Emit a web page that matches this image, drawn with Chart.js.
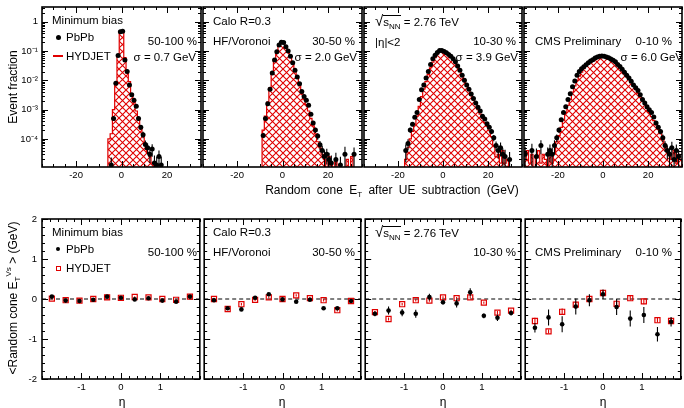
<!DOCTYPE html>
<html>
<head>
<meta charset="utf-8">
<script src="https://cdn.jsdelivr.net/npm/chart.js@4.4.1/dist/chart.umd.min.js"></script>
<style>
  body { margin: 0; background: #fff; }
  #fig { position: relative; width: 684px; height: 408px; overflow: hidden;
         font-family: "Liberation Sans", Arial, sans-serif; color: #000; }
  #fig canvas { position: absolute; }
  .t { position: absolute; font-size: 11.5px; line-height: 14px; white-space: nowrap; }
  .t sub { font-size: 8px; vertical-align: -3px; line-height: 0; }
  .t sup { font-size: 8px; vertical-align: 5px; line-height: 0; }
  .rt { font-size: 15px; }
  .ov { border-top: 1px solid #000; }
  .rot { position: absolute; white-space: nowrap; font-size: 12px; transform: translate(-50%, -50%) rotate(-90deg); }
  .rot sub { font-size: 8px; vertical-align: -3px; line-height: 0; }
  .rot sup { font-size: 8px; vertical-align: 6px; line-height: 0; }
  .xt { position: absolute; white-space: nowrap; font-size: 12px; word-spacing: 3px; transform: translateX(-50%); }
  .xt sub { font-size: 8px; vertical-align: -3px; line-height: 0; }
  .mk { position: absolute; }
</style>
</head>
<body>
<div id="fig"></div>
<script>
const FONT = '"Liberation Sans", Arial, sans-serif';
const RED = '#e00000';
Chart.defaults.font.family = FONT;
Chart.defaults.color = '#000';

// ---------- top row: random cone E_T after UE subtraction, 1 GeV bins ----------
const etRange = [-35, 35];
const etLabels = [-20, 0, 20];
const fracRange = [1.1e-5, 3.2];
const fracLabels = [1e-4, 1e-3, 1e-2, 1e-1, 1];

const centLabels = ['50-100 %', '30-50 %', '10-30 %', '0-10 %'];
const sigmaLabels = ['σ = 0.7 GeV', 'σ = 2.0 GeV', 'σ = 3.9 GeV', 'σ = 6.0 GeV'];

// PbPb: centre of first bin, bin contents, relative errors
const pbpbStart = [-4.5, -8.5, -16.5, -34.5];
const pbpb50_100 = [1.3e-5, 5e-4, 8e-3, 0.07, 0.46, 0.48, 0.05, 0.02, 7e-3, 3.2e-3, 2.1e-3, 1.3e-3,
  5e-4, 2.5e-4, 1.4e-4, 6.5e-5, 5e-5, 3e-5, 4.5e-5, 1.5e-5, 1.3e-5, 2.5e-5, 1.3e-5];
const pbpb30_50 = [1.3e-4, 5e-4, 1.6e-3, 5e-3, 0.018, 0.05, 0.095, 0.16, 0.2, 0.195, 0.14, 0.1, 0.066,
  0.04, 0.022, 0.013, 7.6e-3, 4.2e-3, 2.8e-3, 2.1e-3, 1.4e-3, 7e-4, 3.5e-4, 2e-4, 1.25e-4, 6.3e-5,
  4e-5, 2.5e-5, 3e-5, 2e-5, 1.5e-5, null, 2e-5, null, 1.3e-5, null, 3e-5, null, null, null, 3e-5];
const pbpb10_30 = [4e-5, 7e-5, 2e-4, 3.2e-4, 5.5e-4, 8e-4, 2.2e-3, 4.8e-3, 7e-3, 0.012, 0.02, 0.035,
  0.055, 0.072, 0.09, 0.105, 0.104, 0.097, 0.088, 0.077, 0.066, 0.055, 0.043, 0.031, 0.022, 0.015,
  0.01, 7e-3, 5e-3, 3.4e-3, 2.4e-3, 1.7e-3, 1.2e-3, 9e-4, 6e-4, 4.8e-4, 3.3e-4, 2.5e-4, 1.8e-4,
  1.1e-4, 6e-5, 4e-5, 5e-5, 3e-5, 2.5e-5, null, 2e-5];
const pbpb0_10 = [3e-5, null, null, 4e-5, null, 2.5e-5, null, 6e-5, null, null, 3e-5, 4e-5, 3e-5, 6e-5,
  1.1e-4, 2e-4, 4.5e-4, 8e-4, 1.25e-3, 2.2e-3, 3.5e-3, 6e-3, 9.5e-3, 0.015, 0.02, 0.025, 0.029,
  0.034, 0.04, 0.046, 0.051, 0.058, 0.063, 0.066, 0.068, 0.066, 0.063, 0.059, 0.054, 0.049, 0.043,
  0.035, 0.03, 0.024, 0.019, 0.015, 0.012, 9.3e-3, 7e-3, 5.6e-3, 4.5e-3, 3.2e-3, 2.2e-3, 1.7e-3,
  1.25e-3, 1e-3, 8e-4, 5.6e-4, 3.5e-4, 2.5e-4, 1.8e-4, 1.1e-4, 6e-5, 4e-5, 3e-5, 5e-5, 2e-5, 4e-5,
  2.5e-5, null];

const errPbpb50_100 = [0.8, 0.15, 0.04, 0.01, 0.01, 0.01, 0.01, 0.02, 0.04, 0.06, 0.08, 0.1, 0.15,
  0.2, 0.25, 0.35, 0.4, 0.5, 0.45, 0.8, 0.9, 0.6, 0.9];
const errPbpb30_50 = [0.15, 0.08, 0.05, 0.03, 0.01, 0.01, 0.01, 0.01, 0.01, 0.01, 0.01, 0.01, 0.01,
  0.01, 0.02, 0.02, 0.03, 0.04, 0.05, 0.06, 0.08, 0.1, 0.15, 0.2, 0.25, 0.35, 0.45, 0.6, 0.55, 0.7,
  0.8, 0, 0.7, 0, 0.9, 0, 0.8, 0, 0, 0, 0.7];
const errPbpb10_30 = [0.6, 0.4, 0.2, 0.15, 0.1, 0.08, 0.04, 0.03, 0.02, 0.01, 0.01, 0.01, 0.01, 0.01,
  0.01, 0.01, 0.01, 0.01, 0.01, 0.01, 0.01, 0.01, 0.01, 0.01, 0.01, 0.01, 0.01, 0.01, 0.02, 0.02,
  0.03, 0.04, 0.05, 0.06, 0.08, 0.1, 0.12, 0.15, 0.2, 0.25, 0.35, 0.45, 0.5, 0.6, 0.7, 0, 0.8];
const errPbpb0_10 = [0.8, 0, 0, 0.7, 0, 0.9, 0, 0.5, 0, 0, 0.7, 0.6, 0.7, 0.5,
  0.3, 0.2, 0.12, 0.08, 0.06, 0.04,
  0.02, 0.02, 0.01, 0.01, 0.01, 0.01, 0.01, 0.01, 0.01, 0.01, 0.01, 0.01, 0.01, 0.01, 0.01, 0.01,
  0.01, 0.01, 0.01, 0.01, 0.01, 0.01, 0.01, 0.01, 0.01, 0.01, 0.01, 0.01, 0.01, 0.01, 0.02, 0.02, 0.02,
  0.03, 0.04, 0.05, 0.06, 0.08, 0.12, 0.15, 0.2, 0.3, 0.4,
  0.5, 0.7, 0.6, 0.8, 0.6, 0.7, 0];

// HYDJET: lower edge of first bin, bin contents
const hydStart = [-6, -9, -17, -35];
const hyd50_100 = [1e-4, 1.5e-4, 1e-3, 8e-3, 0.07, 0.45, 0.47, 0.06, 0.018, 9e-3, 3.5e-3, 1.8e-3,
  9e-4, 4.5e-4, 2.2e-4, 1.2e-4, 7e-5, 3.5e-5, 2.5e-5, 1.5e-5];
const hyd30_50 = [2e-4, 6e-4, 1.8e-3, 5.5e-3, 0.018, 0.05, 0.095, 0.16, 0.21, 0.2, 0.145, 0.1, 0.065,
  0.04, 0.022, 0.012, 6.5e-3, 3.5e-3, 2.2e-3, 1.5e-3, 9e-4, 5e-4, 2.8e-4, 1.5e-4, 8e-5, 5e-5, 3e-5,
  2e-5, 5e-6, 2.5e-5, 1.5e-5, 5e-6, 2e-5, 5e-6, 5e-6, 5e-6, 5e-6, 2e-5, 5e-6, 2.5e-5];
const hyd10_30 = [2e-5, 5e-5, 1e-4, 1.8e-4, 3.2e-4, 6e-4, 1.3e-3, 2.8e-3, 5e-3, 9e-3, 0.016, 0.027,
  0.042, 0.06, 0.08, 0.097, 0.105, 0.1, 0.09, 0.079, 0.067, 0.055, 0.043, 0.031, 0.022, 0.015, 0.01,
  6.8e-3, 4.6e-3, 3.1e-3, 2.1e-3, 1.5e-3, 1e-3, 7e-4, 5e-4, 3.6e-4, 2.7e-4, 1.9e-4, 1.2e-4, 6e-5,
  2.5e-5, 3e-5, 1.5e-5, 4e-5, 1.5e-5, 2e-5, 1e-5];
const hyd0_10 = [2e-5, 4e-5, 1.5e-5, 3e-5, 5e-6, 2.5e-5, 4e-5, 1.5e-5, 3e-5, 2e-5, 5e-6, 3e-5, 1.5e-5,
  3e-5, 8e-5, 1.3e-4, 2.5e-4, 4.5e-4, 8e-4, 1.4e-3, 2.3e-3, 4e-3, 6.5e-3, 0.01, 0.014, 0.019, 0.025,
  0.031, 0.038, 0.045, 0.051, 0.057, 0.062, 0.066, 0.068, 0.067, 0.064, 0.06, 0.055, 0.049, 0.043,
  0.036, 0.03, 0.024, 0.019, 0.0145, 0.011, 8.3e-3, 6.3e-3, 4.8e-3, 3.6e-3, 2.7e-3, 2e-3, 1.5e-3,
  1.1e-3, 8e-4, 5.8e-4, 4.2e-4, 3e-4, 2.1e-4, 1.5e-4, 1e-4, 6.5e-5, 4e-5, 3e-5, 2e-5, 4e-5, 1.5e-5,
  3e-5, 2e-5];

const pbpbEt = [pbpb50_100, pbpb30_50, pbpb10_30, pbpb0_10];
const errPbpbEt = [errPbpb50_100, errPbpb30_50, errPbpb10_30, errPbpb0_10];
const hydEt = [hyd50_100, hyd30_50, hyd10_30, hyd0_10];

// ---------- bottom row: mean random cone E_T vs eta ----------
const etaRange = [-2, 2];
const etaLabels = [-1, 0, 1];
const meanRange = [-2, 2];
const meanLabels = [-2, -1, 0, 1, 2];
const etaBins = [-1.75, -1.4, -1.05, -0.7, -0.35, 0, 0.35, 0.7, 1.05, 1.4, 1.75];

const pbpbEta = [
  [0.06, -0.04, -0.05, -0.02, 0.06, 0.03, -0.01, 0.02, -0.04, -0.07, 0.06],
  [-0.03, -0.23, -0.26, 0.03, 0.12, -0.01, -0.07, -0.02, -0.23, -0.23, -0.05],
  [-0.37, -0.29, -0.34, -0.37, 0.05, -0.08, -0.11, 0.17, -0.42, -0.47, -0.35],
  [-0.72, -0.46, -0.63, -0.19, -0.03, 0.12, -0.2, -0.49, -0.4, -0.88, -0.57]];
const errPbpbEta = [
  [0.02, 0.02, 0.02, 0.02, 0.02, 0.02, 0.02, 0.02, 0.02, 0.02, 0.02],
  [0.03, 0.03, 0.03, 0.03, 0.03, 0.03, 0.03, 0.03, 0.03, 0.03, 0.03],
  [0.06, 0.1, 0.09, 0.1, 0.08, 0.06, 0.1, 0.1, 0.06, 0.08, 0.06],
  [0.12, 0.2, 0.2, 0.2, 0.15, 0.12, 0.2, 0.2, 0.2, 0.18, 0.12]];
const hydEta = [
  [0.01, -0.03, -0.04, 0.0, 0.04, 0.03, 0.05, 0.04, 0.0, -0.02, 0.06],
  [0.0, -0.25, -0.13, -0.02, 0.04, 0.0, 0.09, 0.02, -0.03, -0.28, -0.05],
  [-0.33, -0.5, -0.13, -0.03, -0.04, 0.04, 0.02, 0.04, -0.09, -0.34, -0.29],
  [-0.55, -0.81, -0.32, -0.14, 0.0, 0.15, -0.12, 0.02, -0.06, -0.53, -0.55]];
const errHydEta = [
  [0.02, 0.02, 0.02, 0.02, 0.02, 0.02, 0.02, 0.02, 0.02, 0.02, 0.02],
  [0.03, 0.03, 0.03, 0.03, 0.03, 0.03, 0.03, 0.03, 0.03, 0.03, 0.03],
  [0.03, 0.04, 0.03, 0.03, 0.03, 0.03, 0.03, 0.03, 0.03, 0.04, 0.03],
  [0.08, 0.05, 0.08, 0.07, 0.06, 0.06, 0.07, 0.06, 0.07, 0.06, 0.06]];

// ---------- page layout ----------
const fig = document.getElementById('fig');
const COL = [42, 202, 363, 523, 683];   // panel edges
const ROW_TOP = [7, 219];
const PLOT_H = 160;
const PAD_T = 8, PAD = 3;
const FLOOR = 5e-6;                     // below the log axis, closes the histogram

function addCanvas(left, top, w, h) {
  const cv = document.createElement('canvas');
  cv.width = w; cv.height = h;
  cv.style.left = left + 'px'; cv.style.top = top + 'px';
  fig.appendChild(cv);
  return cv;
}

// red cross-hatch fill used for HYDJET
function makeHatch() {
  const s = 7;
  const c = document.createElement('canvas');
  c.width = s; c.height = s;
  const g = c.getContext('2d');
  g.strokeStyle = RED; g.lineWidth = 1.1;
  g.beginPath();
  g.moveTo(-1, -1); g.lineTo(s + 1, s + 1);
  g.moveTo(-1, s + 1); g.lineTo(s + 1, -1);
  g.stroke();
  return g.createPattern(c, 'repeat');
}
const hatch = makeHatch();

const SUP = { '-': '⁻', '0': '⁰', '1': '¹', '2': '²', '3': '³', '4': '⁴', '5': '⁵' };
const powLabel = v => v === 1 ? '1'
  : '10' + String(Math.round(Math.log10(v))).split('').map(c => SUP[c]).join('');

function range(a, b, step) {
  const out = [];
  for (let v = a; v <= b + 1e-9; v += step) out.push(+v.toFixed(6));
  return out;
}
function logMinors(lo, hi) {
  const out = [];
  for (let e = -6; e <= 1; e++) for (let m = 2; m <= 9; m++) {
    const v = m * Math.pow(10, e);
    if (v > lo && v < hi) out.push(v);
  }
  return out;
}

// frame with inward ROOT-style tick marks on all four sides
function frameTicks(xMaj, xMin, yMaj, yMin) {
  return {
    id: 'frameTicks',
    afterDatasetsDraw(chart) {
      const { ctx, chartArea: a, scales: { x, y } } = chart;
      ctx.save();
      ctx.strokeStyle = '#000';
      ctx.lineWidth = 1;
      ctx.beginPath();
      const vx = (vals, len) => vals.forEach(v => {
        const px = Math.round(x.getPixelForValue(v)) + 0.5;
        ctx.moveTo(px, a.bottom); ctx.lineTo(px, a.bottom - len);
        ctx.moveTo(px, a.top); ctx.lineTo(px, a.top + len);
      });
      const vy = (vals, len) => vals.forEach(v => {
        const py = Math.round(y.getPixelForValue(v)) + 0.5;
        ctx.moveTo(a.left, py); ctx.lineTo(a.left + len, py);
        ctx.moveTo(a.right, py); ctx.lineTo(a.right - len, py);
      });
      vx(xMaj, 6); vx(xMin, 3); vy(yMaj, 6); vy(yMin, 3);
      ctx.stroke();
      ctx.lineWidth = 1.6;
      ctx.strokeRect(a.left, a.top, a.right - a.left, a.bottom - a.top);
      ctx.restore();
    }
  };
}

// vertical error bars, drawn just under the markers of their dataset
const errorBars = {
  id: 'errorBars',
  beforeDatasetDraw(chart, args) {
    const ds = chart.data.datasets[args.index];
    const pts = ds.data.filter(d => d.e);
    if (!pts.length) return;
    const { ctx, chartArea: a, scales: { x, y } } = chart;
    ctx.save();
    ctx.beginPath();
    ctx.rect(a.left, a.top, a.right - a.left, a.bottom - a.top);
    ctx.clip();
    ctx.strokeStyle = ds.borderColor;
    ctx.lineWidth = 1.1;
    ctx.beginPath();
    pts.forEach(d => {
      const px = x.getPixelForValue(d.x);
      const lo = d.y - d.e;
      const yLo = (lo > 0 || y.type !== 'logarithmic') ? y.getPixelForValue(lo) : a.bottom;
      ctx.moveTo(px, yLo);
      ctx.lineTo(px, y.getPixelForValue(d.y + d.e));
    });
    ctx.stroke();
    ctx.restore();
  }
};

function baseOptions(p, xAxisH, xScale, yScale) {
  return {
    responsive: false,
    animation: false,
    devicePixelRatio: 1,
    layout: { padding: { top: PAD_T, right: PAD, left: p === 0 ? 0 : PAD, bottom: 0 } },
    plugins: { legend: { display: false }, tooltip: { enabled: false } },
    scales: {
      x: Object.assign({
        type: 'linear',
        grid: { display: false, drawTicks: false },
        border: { display: false },
        ticks: { font: { size: 9.5 }, color: '#000', padding: 3, maxRotation: 0, callback: v => String(v) },
        afterFit: s => { s.height = xAxisH; s.paddingLeft = 0; s.paddingRight = 0; }
      }, xScale),
      y: Object.assign({
        display: p === 0,
        grid: { display: false, drawTicks: false },
        border: { display: false },
        afterFit: s => { s.width = p === 0 ? 42 : 0; s.paddingTop = 0; s.paddingBottom = 0; }
      }, yScale)
    }
  };
}

function histPoints(lo, vals) {
  const pts = [{ x: lo, y: FLOOR }];
  vals.forEach((v, i) => pts.push({ x: lo + i, y: v }));
  pts.push({ x: lo + vals.length, y: vals[vals.length - 1] });
  pts.push({ x: lo + vals.length, y: FLOOR });
  return pts;
}

const etMinor = range(etRange[0], etRange[1], 5);
const fracMinor = logMinors(fracRange[0], fracRange[1]);

function etPanel(p) {
  const padL = p === 0 ? 42 : PAD;
  const w = COL[p + 1] - COL[p];
  const xAxisH = 24;
  const cv = addCanvas(COL[p] - padL, ROW_TOP[0] - PAD_T, padL + w + PAD, PAD_T + PLOT_H + xAxisH);
  const pts = pbpbEt[p]
    .map((v, i) => ({ x: pbpbStart[p] + i, y: v, e: v === null ? 0 : v * errPbpbEt[p][i] }))
    .filter(d => d.y !== null);
  new Chart(cv, {
    type: 'line',
    data: {
      datasets: [
        { label: 'PbPb', data: pts, showLine: false, pointRadius: 2.5, pointBorderWidth: 0,
          pointBackgroundColor: '#000', borderColor: '#000' },
        { label: 'HYDJET', data: histPoints(hydStart[p], hydEt[p]), stepped: 'before', tension: 0,
          borderColor: RED, borderWidth: 1.2, pointRadius: 0, fill: 'start', backgroundColor: hatch }
      ]
    },
    options: baseOptions(p, xAxisH,
      { min: etRange[0], max: etRange[1],
        afterBuildTicks: s => { s.ticks = etLabels.map(v => ({ value: v })); } },
      { type: 'logarithmic', min: fracRange[0], max: fracRange[1],
        ticks: { font: { size: 9.5 }, color: '#000', padding: 4, callback: powLabel },
        afterBuildTicks: s => { s.ticks = fracLabels.map(v => ({ value: v })); } }),
    plugins: [errorBars, frameTicks(etLabels, etMinor, fracLabels, fracMinor)]
  });
}

const etaMinor = range(etaRange[0], etaRange[1], 0.2);
const meanMinor = range(meanRange[0], meanRange[1], 0.2);

function etaPanel(p) {
  const padL = p === 0 ? 42 : PAD;
  const w = COL[p + 1] - COL[p];
  const xAxisH = 20;
  const cv = addCanvas(COL[p] - padL, ROW_TOP[1] - PAD_T, padL + w + PAD, PAD_T + PLOT_H + xAxisH);
  const toPts = (vals, errs) => vals.map((v, i) => ({ x: etaBins[i], y: v, e: errs[i] }));
  new Chart(cv, {
    type: 'line',
    data: {
      datasets: [
        { label: 'PbPb', data: toPts(pbpbEta[p], errPbpbEta[p]), showLine: false, pointRadius: 2.3,
          pointBorderWidth: 0, pointBackgroundColor: '#000', borderColor: '#000' },
        { label: 'HYDJET', data: toPts(hydEta[p], errHydEta[p]), showLine: false, pointStyle: 'rect',
          pointRadius: 3.6, pointBorderWidth: 1.2, pointBorderColor: RED,
          pointBackgroundColor: 'rgba(255,255,255,0)', borderColor: RED },
        { label: 'zero', data: etaRange.map(x => ({ x, y: 0 })), borderColor: '#000', borderWidth: 1,
          borderDash: [4, 3], pointRadius: 0 }
      ]
    },
    options: baseOptions(p, xAxisH,
      { min: etaRange[0], max: etaRange[1],
        afterBuildTicks: s => { s.ticks = etaLabels.map(v => ({ value: v })); } },
      { type: 'linear', min: meanRange[0], max: meanRange[1],
        ticks: { font: { size: 9.5 }, color: '#000', padding: 5, callback: v => String(v) },
        afterBuildTicks: s => { s.ticks = meanLabels.map(v => ({ value: v })); } }),
    plugins: [errorBars, frameTicks(meanLabels.filter(v => Math.abs(v) < 2), etaMinor, meanLabels, meanMinor)]
  });
}

for (let p = 0; p < 4; p++) { etPanel(p); etaPanel(p); }

// ---------- text ----------
function txt(html, x, cy, right) {
  const d = document.createElement('div');
  d.className = 't';
  d.innerHTML = html;
  if (right) d.style.right = (684 - x) + 'px'; else d.style.left = x + 'px';
  d.style.top = (cy - 7) + 'px';
  fig.appendChild(d);
}
function marker(x, y, w, h, css) {
  const d = document.createElement('div');
  d.className = 'mk';
  d.style.cssText = `left:${x - w / 2}px;top:${y - h / 2}px;width:${w}px;height:${h}px;` + css;
  fig.appendChild(d);
}
const SQRTS = '<span class="rt">√</span><span class="ov">s<sub>NN</sub></span> = 2.76 TeV';

// top row
txt('Minimum bias', 52, 20);
txt('PbPb', 66, 37); marker(58, 37, 5, 5, 'background:#000;border-radius:50%;');
txt('HYDJET', 66, 56); marker(58, 56, 10, 1.5, 'background:' + RED + ';');
txt('Calo R=0.3', 213, 21);
txt('HF/Voronoi', 213, 41);
txt(SQRTS, 375, 21);
txt('|η|&lt;2', 375, 42);
txt('CMS Preliminary', 535, 41);
[197, 355, 516, 672].forEach((x, p) => txt(centLabels[p], x, 41, true));
[196, 357, 518, 683].forEach((x, p) => txt(sigmaLabels[p], x, 57, true));

// bottom row
txt('Minimum bias', 52, 232);
txt('PbPb', 66, 249); marker(58, 249, 4.5, 4.5, 'background:#000;border-radius:50%;');
txt('HYDJET', 66, 268); marker(58, 268, 5, 5, 'border:1.2px solid ' + RED + ';box-sizing:border-box;');
txt('Calo R=0.3', 213, 232);
txt('HF/Voronoi', 213, 252);
txt(SQRTS, 375, 232);
txt('CMS Preliminary', 535, 252);
[197, 355, 516, 672].forEach((x, p) => txt(centLabels[p], x, 252, true));

// axis titles
function rot(html, cx, cy) {
  const d = document.createElement('div');
  d.className = 'rot';
  d.innerHTML = html;
  d.style.left = cx + 'px'; d.style.top = cy + 'px';
  fig.appendChild(d);
}
rot('Event fraction', 13, 87);
rot('&lt;Random cone E<sub>T</sub><sup>Vs</sup> &gt; (GeV)', 13, 298);

const xt = document.createElement('div');
xt.className = 'xt';
xt.innerHTML = 'Random cone E<sub>T</sub> after UE subtraction (GeV)';
xt.style.left = '392px'; xt.style.top = '183px';
fig.appendChild(xt);

[122, 282, 443, 603].forEach(cx => {
  const d = document.createElement('div');
  d.className = 'xt';
  d.textContent = 'η';
  d.style.left = cx + 'px'; d.style.top = '395px';
  fig.appendChild(d);
});
</script>
</body>
</html>
